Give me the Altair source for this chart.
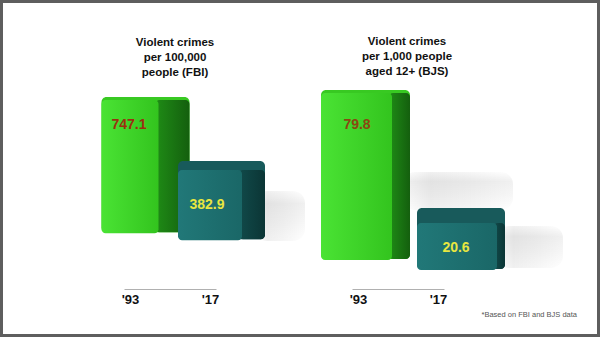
import altair as alt
import pandas as pd

# ---- data ----
years = ["'93", "'17"]
fbi_values = [747.1, 382.9]
bjs_values = [79.8, 20.6]
fbi_title = "Violent crimes\nper 100,000\npeople (FBI)"
bjs_title = "Violent crimes\nper 1,000 people\naged 12+ (BJS)"
note_text = "*Based on FBI and BJS data"

FONT = "Liberation Sans"


def grad(c1, c2, horizontal=True):
    return alt.LinearGradient(
        gradient="linear",
        stops=[alt.GradientStop(color=c1, offset=0), alt.GradientStop(color=c2, offset=1)],
        x1=0, y1=0, x2=1 if horizontal else 0, y2=0 if horizontal else 1,
    )


def shadow_grad(horizontal):
    return alt.LinearGradient(
        gradient="linear",
        stops=[alt.GradientStop(color="rgba(0,0,0,0)", offset=0),
               alt.GradientStop(color="rgba(0,0,0,0.06)", offset=0.25),
               alt.GradientStop(color="rgba(0,0,0,0.035)", offset=0.6),
               alt.GradientStop(color="rgba(0,0,0,0)", offset=1)],
        x1=0, y1=0, x2=1 if horizontal else 0, y2=0 if horizontal else 1,
    )


GREEN = dict(top="#38c922", front=grad("#4ae334", "#33c41e"), side=grad("#1f8c16", "#145f0e"))
TEAL = dict(top="#185a5b", front=grad("#217878", "#1a6767"), side=grad("#114a4a", "#0b3535"))


def panel(values, xrange, ydomain, styles, label_colors):
    df = pd.DataFrame({"year": years, "value": values})
    xs = alt.Scale(type="point", domain=years, range=xrange, padding=0.075)
    ys = alt.Scale(domain=ydomain, range=[289, 89], zero=False, nice=False)
    xenc = alt.X("year:N", scale=xs, sort=years,
                 axis=alt.Axis(orient="bottom", offset=-48, title=None, ticks=False,
                               labelFontSize=13, labelFontWeight="bold", labelFont=FONT,
                               labelColor="#111111", labelPadding=4, labelAngle=0,
                               domainColor="#b0b0b0", domainWidth=1, grid=False))
    yenc = alt.Y("value:Q", scale=ys, axis=None, stack=None)
    shadows, layers = [], []
    for yr, st, pal, tcol in zip(years, styles, [GREEN, TEAL], label_colors):
        base = alt.Chart(df).transform_filter(alt.datum.year == yr)
        off, fw, side, depth, bot = st["off"], st["fw"], st["side"], st["depth"], st["bot"]
        if "sh" in st:
            sx, sw, sy1, sy2 = st["sh"]
            for horiz in (True, False):
                shadows.append(base.mark_bar(width=sw, xOffset=sx, yOffset=sy1, y2Offset=sy2,
                                             cornerRadius=12, color=shadow_grad(horiz)).encode(
                    x=xenc, y=yenc, y2=alt.Y2("value:Q")))
        body = base.mark_bar(width=fw + side, xOffset=off + side / 2, y2Offset=bot - 1,
                             cornerRadius=5, color=pal["top"]).encode(x=xenc, y=yenc, y2=alt.datum(0))
        sidef = base.mark_bar(width=side + 3, xOffset=off + fw / 2 + side / 2 - 1.5,
                              yOffset=depth, y2Offset=bot - 1, cornerRadius=4,
                              color=pal["side"]).encode(x=xenc, y=yenc, y2=alt.datum(0))
        front = base.mark_bar(width=fw, xOffset=off, yOffset=depth, y2Offset=bot,
                              cornerRadius=4, color=pal["front"]).encode(x=xenc, y=yenc, y2=alt.datum(0))
        label = base.mark_text(font=FONT, fontSize=14, fontWeight="bold", color=tcol,
                               align="center", baseline="middle", dx=st["tdx"], dy=st["tdy"]).encode(
            x=xenc, y=yenc, text=alt.Text("value:Q", format=".1f"))
        layers += [body, sidef, front, label]
    return alt.layer(*(shadows + layers))


left = panel(
    fbi_values, [124, 216], [-345, 793],
    [dict(off=0, fw=57, side=31, depth=3, bot=5, tdx=-1, tdy=28),
     dict(off=0, fw=64, side=23, depth=9, bot=12, tdx=-3, tdy=44, sh=(70, 50, 30, 80))],
    ["#9c2f10", "#e8e640"],
)
right = panel(
    bjs_values, [352, 444], [-20, 80.3],
    [dict(off=-1.5, fw=71, side=18, depth=3, bot=11, tdx=-1, tdy=35, sh=(100, 110, 82, 120)),
     dict(off=19, fw=80, side=8, depth=15, bot=21, tdx=18, tdy=40, sh=(92, 66, 18, 60))],
    ["#8c4612", "#e8e640"],
)

titles_df = pd.DataFrame({"title": [fbi_title, bjs_title], "pos": ["a", "b"]})
title_a = alt.Chart(titles_df).transform_filter(alt.datum.pos == "a").mark_text(
    font=FONT, fontSize=11.5, fontWeight="bold", color="#111111", lineBreak="\n",
    lineHeight=15, align="center", baseline="middle").encode(
    text="title:N", x=alt.value(175), y=alt.value(43))
title_b = alt.Chart(titles_df).transform_filter(alt.datum.pos == "b").mark_text(
    font=FONT, fontSize=11.5, fontWeight="bold", color="#111111", lineBreak="\n",
    lineHeight=15, align="center", baseline="middle").encode(
    text="title:N", x=alt.value(407), y=alt.value(42))
note = alt.Chart(pd.DataFrame({"note": [note_text]})).mark_text(
    font=FONT, fontSize=7.5, color="#555555", align="right", baseline="middle").encode(
    text="note:N", x=alt.value(577), y=alt.value(315))

chart = alt.layer(left, right, title_a, title_b, note).resolve_scale(
    x="independent", y="independent"
).properties(
    width=600, height=337, autosize="none", padding=0, background="white"
).configure_view(stroke="#5e5e5e", strokeWidth=6, fill="white")

chart.save("out.html", embed_options={"renderer": "svg", "actions": False})
